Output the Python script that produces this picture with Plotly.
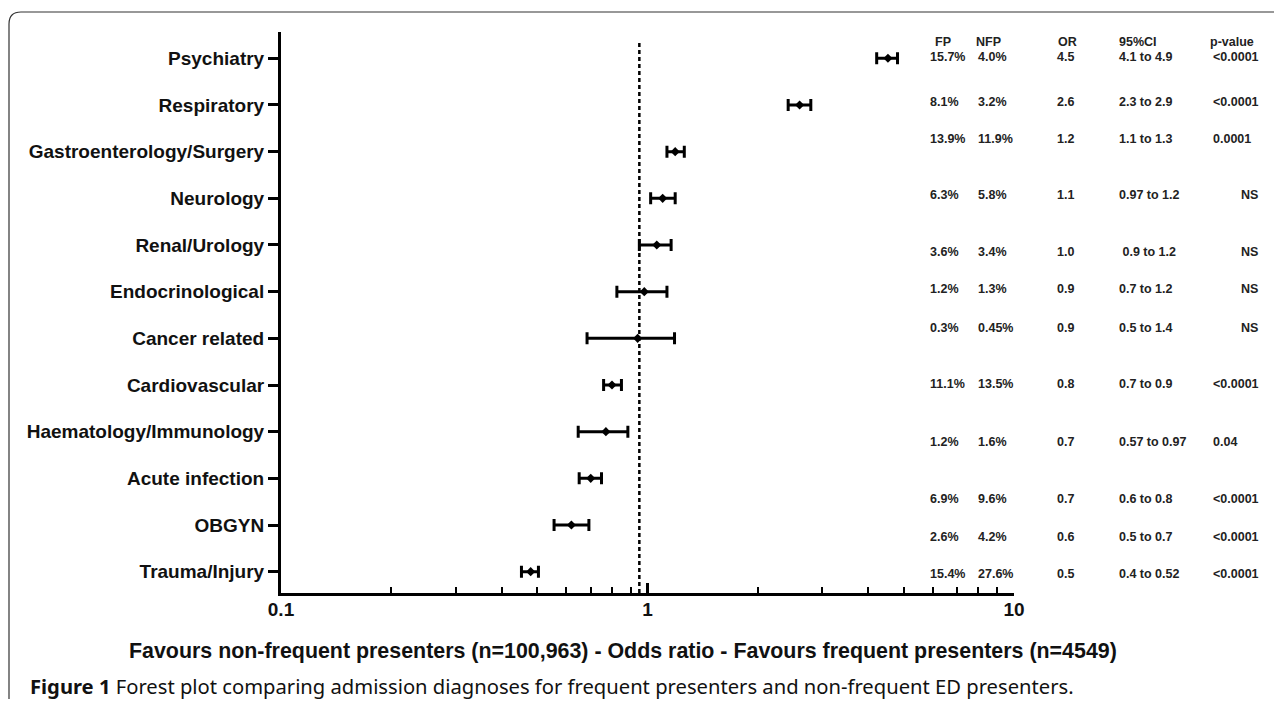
import plotly.graph_objects as go

# ---------------- data ----------------
categories = ["Psychiatry", "Respiratory", "Gastroenterology/Surgery", "Neurology",
              "Renal/Urology", "Endocrinological", "Cancer related", "Cardiovascular",
              "Haematology/Immunology", "Acute infection", "OBGYN", "Trauma/Injury"]
odds_ratio = [4.53, 2.60, 1.19, 1.10, 1.06, 0.98, 0.94, 0.80, 0.77, 0.70, 0.62, 0.48]
ci_low     = [4.22, 2.42, 1.13, 1.02, 0.95, 0.825, 0.684, 0.759, 0.647, 0.651, 0.556, 0.453]
ci_high    = [4.81, 2.79, 1.26, 1.19, 1.16, 1.13, 1.185, 0.849, 0.884, 0.749, 0.692, 0.504]
reference_or = 0.95

table_headers = ["FP", "NFP", "OR", "95%CI", "p-value"]
fp_pct   = ["15.7%", "8.1%", "13.9%", "6.3%", "3.6%", "1.2%", "0.3%", "11.1%", "1.2%", "6.9%", "2.6%", "15.4%"]
nfp_pct  = ["4.0%", "3.2%", "11.9%", "5.8%", "3.4%", "1.3%", "0.45%", "13.5%", "1.6%", "9.6%", "4.2%", "27.6%"]
or_text  = ["4.5", "2.6", "1.2", "1.1", "1.0", "0.9", "0.9", "0.8", "0.7", "0.7", "0.6", "0.5"]
ci_text  = ["4.1 to 4.9", "2.3 to 2.9", "1.1 to 1.3", "0.97 to 1.2", " 0.9 to 1.2", "0.7 to 1.2",
            "0.5 to 1.4", "0.7 to 0.9", "0.57 to 0.97", "0.6 to 0.8", "0.5 to 0.7", "0.4 to 0.52"]
p_text   = ["<0.0001", "<0.0001", "0.0001", "NS", "NS", "NS", "NS", "<0.0001", "0.04",
            "<0.0001", "<0.0001", "<0.0001"]

x_tickvals = [0.1, 1, 10]
x_ticktext = ["0.1", "1", "10"]
x_minor = [0.2, 0.3, 0.4, 0.5, 0.6, 0.7, 0.8, 0.9, 2, 3, 4, 5, 6, 7, 8, 9]

x_title = "Favours non-frequent presenters (n=100,963) - Odds ratio - Favours frequent presenters (n=4549)"
caption_bold = "Figure 1"
caption_rest = " Forest plot comparing admission diagnoses for frequent presenters and non-frequent ED presenters."

# ---------------- layout constants (reference pixels) ----------------
OFF = 8                      # page body margin
W, H = 1282 - 2 * OFF, 707 - 2 * OFF
PL, PR, PT, PB = 281, 1014, 32, 593  # plot area edges in reference px
table_row_px = [57, 101.7, 139, 195, 251.7, 289.3, 328.3, 384, 441.7, 499, 536.7, 574]
table_header_px = 42
col_x = {"FP": 928, "NFP": 976, "OR": 1055, "CI": 1117, "P": 1211, "P_right": 1260}
header_x = [933, 974, 1056, 1117, 1208]


def px_x(px):
    return (px - PL) / (PR - PL)


def px_y(py):
    return (PB - py) / (PB - PT)


n = len(categories)
yvals = [n - i for i in range(n)]

fig = go.Figure()
fig.add_trace(go.Scatter(
    x=odds_ratio, y=yvals, mode="markers",
    marker=dict(symbol="diamond", size=7, color="black"),
    error_x=dict(type="data", symmetric=False,
                 array=[h - o for h, o in zip(ci_high, odds_ratio)],
                 arrayminus=[o - l for o, l in zip(odds_ratio, ci_low)],
                 color="black", thickness=3, width=6),
    showlegend=False, hoverinfo="skip"))

fig.add_shape(type="line", xref="x", yref="paper", x0=reference_or, x1=reference_or,
              y0=0, y1=px_y(41.7), line=dict(color="black", width=2.5, dash="4px,3px"))

annotations = []
tfont = dict(family="Liberation Sans, Arial, sans-serif", size=12.5, color="#222")
for hx, ht in zip(header_x, table_headers):
    annotations.append(dict(x=px_x(hx), y=px_y(table_header_px), xref="paper", yref="paper",
                            text="<b>" + ht + "</b>", showarrow=False, xanchor="left",
                            yanchor="middle", font=tfont))
for i in range(n):
    yy = px_y(table_row_px[i])
    for key, txt in (("FP", fp_pct[i]), ("NFP", nfp_pct[i]), ("OR", or_text[i]), ("CI", ci_text[i])):
        annotations.append(dict(x=px_x(col_x[key]), y=yy, xref="paper", yref="paper",
                                text="<b>" + txt + "</b>",
                                showarrow=False, xanchor="left", yanchor="middle", font=tfont))
    if p_text[i] == "NS":
        annotations.append(dict(x=px_x(col_x["P_right"]), y=yy, xref="paper", yref="paper",
                                text="<b>" + p_text[i] + "</b>", showarrow=False, xanchor="right",
                                yanchor="middle", font=tfont))
    else:
        annotations.append(dict(x=px_x(col_x["P"]), y=yy, xref="paper", yref="paper",
                                text="<b>" + p_text[i].replace("<", "&lt;") + "</b>", showarrow=False,
                                xanchor="left", yanchor="middle", font=tfont))

annotations.append(dict(x=px_x(623), y=px_y(651), xref="paper", yref="paper", text="<b>" + x_title + "</b>",
                        showarrow=False, xanchor="center", yanchor="middle",
                        font=dict(family="Liberation Sans, Arial, sans-serif", size=21.4, color="#111")))
annotations.append(dict(x=px_x(28), y=px_y(686), xref="paper", yref="paper",
                        text="<b>" + caption_bold + "</b>" + caption_rest,
                        showarrow=False, xanchor="left", yanchor="middle",
                        font=dict(family="Noto Sans, sans-serif", size=20.2, color="#111")))

# frame (left + top with rounded corner)
fig.add_shape(type="path", xref="paper", yref="paper",
              path=(f"M {px_x(9)},{px_y(720)} L {px_x(9)},{px_y(24)} "
                    f"Q {px_x(9)},{px_y(12)} {px_x(21)},{px_y(12)} L {px_x(1275)},{px_y(12)} "
                    f"Q {px_x(1281)},{px_y(12)} {px_x(1281)},{px_y(20)}"),
              line=dict(color="#333", width=1.2))

fig.update_layout(
    width=W, height=H, autosize=False,
    margin=dict(l=PL - OFF, r=W - (PR - OFF), t=PT - OFF, b=H - (PB - OFF), pad=0),
    plot_bgcolor="white", paper_bgcolor="white",
    annotations=annotations,
    xaxis=dict(type="log", range=[-1, 1], tickvals=x_tickvals,
               ticktext=["<b>" + t + "</b>" for t in x_ticktext],
               ticks="inside", ticklen=10, tickwidth=3, tickcolor="black", ticklabelstandoff=-3,
               showline=True, linewidth=3, linecolor="black", showgrid=False, zeroline=False,
               tickfont=dict(family="Liberation Sans, Arial, sans-serif", size=19, color="#111"),
               minor=dict(tickvals=x_minor, ticks="inside", ticklen=6, tickwidth=2, tickcolor="black",
                          showgrid=False)),
    yaxis=dict(range=[0.543, 12.564], tickvals=yvals, ticktext=["<b>" + c + "</b>" for c in categories],
               ticks="outside", ticklen=10, tickwidth=3, tickcolor="black",
               showline=True, linewidth=3, linecolor="black", showgrid=False, zeroline=False,
               tickfont=dict(family="Liberation Sans, Arial, sans-serif", size=19, color="#111")),
)

fig.write_html("out.html")
